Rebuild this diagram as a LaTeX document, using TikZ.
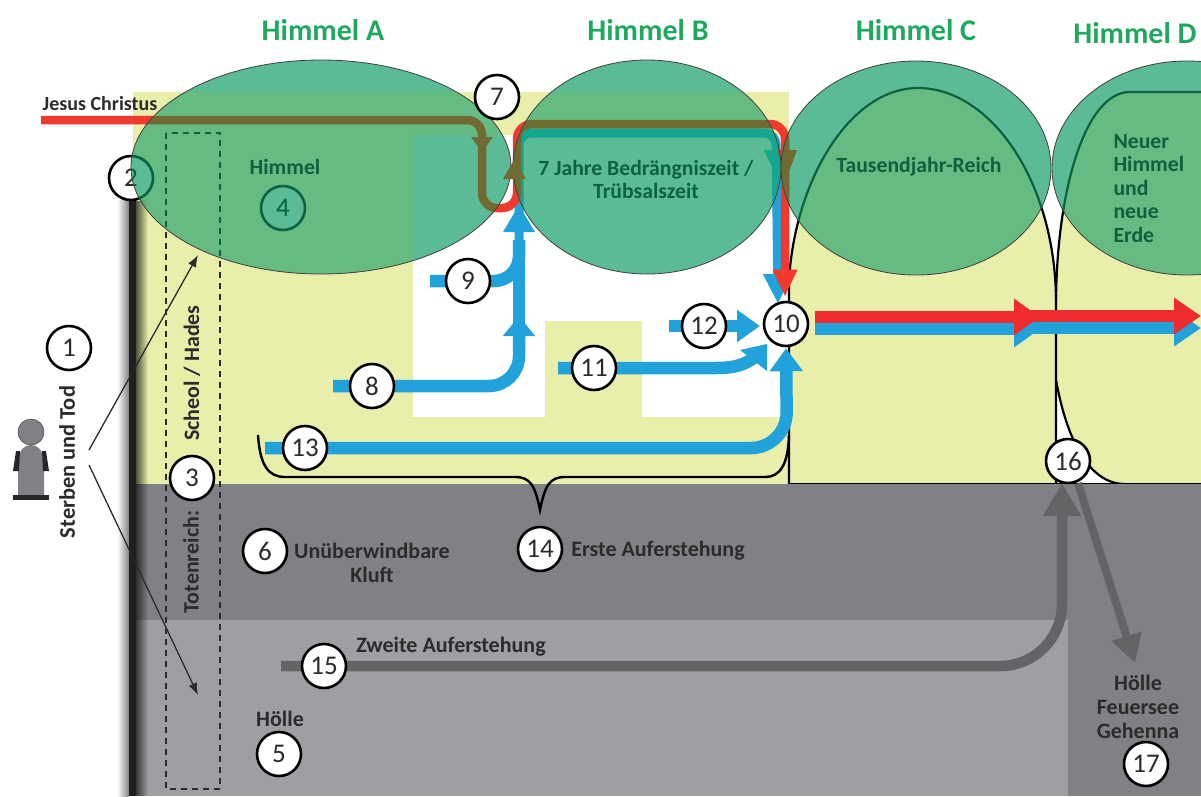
\documentclass[tikz,border=0pt]{standalone}
\usepackage{fontspec}
\setmainfont{Carlito}
\usetikzlibrary{arrows.meta,fadings}
\pgfdeclarelayer{base}
\pgfdeclarelayer{cover}
\pgfsetlayers{base,cover,main}
\definecolor{myyellow}{RGB}{233,238,170}
\definecolor{mydark}{RGB}{128,129,132}
\definecolor{mylight}{RGB}{157,159,162}
\definecolor{myarrow}{RGB}{99,100,102}
\definecolor{myblue}{RGB}{34,162,218}
\definecolor{myred}{RGB}{238,44,48}
\definecolor{myorange}{RGB}{240,58,46}
\definecolor{myolive}{RGB}{111,107,51}
\definecolor{myteal}{RGB}{20,166,143}
\definecolor{myleaf}{RGB}{102,187,131}
\definecolor{mydeep}{RGB}{12,98,62}
\definecolor{mytitle}{RGB}{31,169,95}
\definecolor{mytext}{RGB}{45,42,44}
\definecolor{mydisc}{RGB}{91,187,151}
\tikzset{
  num/.style={circle,draw=black,fill=white,line width=2.6pt,minimum size=44pt,inner sep=0pt,text=mytext,font=\fontsize{27}{27}\selectfont},
  title/.style={text=mytitle,font=\bfseries\fontsize{30}{30}\selectfont},
  lbl/.style={text=mytext,align=center,font=\bfseries\fontsize{22}{24}\selectfont},
  heaven/.style={text=mydeep,align=center,font=\bfseries\fontsize{21.7}{23.5}\selectfont},
  thinarrow/.style={line width=1.3pt,draw=mytext,-{Latex[length=12pt,width=9pt]}},
  blueline/.style={line width=12.5pt,draw=myblue},
  grayline/.style={line width=10.5pt,draw=myarrow},
  archline/.style={line width=2.2pt},
  dashbox/.style={dash pattern=on 6pt off 5pt,line width=1.4pt},
}
% red and blue passage, coloured by the two arguments
\newcommand{\passage}[2]{
  \draw[line width=9pt,draw=#1,rounded corners=12pt,-{Triangle[length=30pt,width=27pt]}] (519,240) -- (519,133) -- (776,133) -- (blueend);
  \fill[#1] (503,232) -- (535,232) -- (519,205) -- cycle;
  \fill[#1] (764,150) -- (786,150) -- (777,177) -- cycle;
  \draw[line width=8.5pt,draw=#2,rounded corners=15pt,-{Triangle[length=27pt,width=23pt]},shorten >=4pt] (t0) -- (482,120) -- (482,208) -- (517,208) -- (517,124) -- (785,124) -- ([xshift=-1pt]n10.north);
  \fill[#2] (471,137) -- (493,137) -- (482,152) -- cycle;
  \fill[#2] (777,150) -- (797,150) -- (787,177) -- cycle;
}
\newcommand{\archC}{(789,484) -- (789,280) .. controls (795,180) and (850,88) .. (918,88) .. controls (990,88) and (1055,180) .. (1056,300) -- (1056,484)}
\newcommand{\archD}{(1056,300) .. controls (1057,190) and (1085,92) .. (1130,92) -- (1201,92)}
% the yellow ground, also used again inside the discs
\newcommand{\yellowground}[1]{
  \fill[#1] (133,92) rectangle (789,135);
  \fill[#1] (133,135) rectangle (413,484);
  \fill[#1] (413,417) rectangle (789,484);
  \fill[#1] (545,321) rectangle (642,417);
  \fill[#1] \archC -- cycle;
  \fill[#1] \archD -- (1201,484) -- (1125,484) .. controls (1085,484) and (1065,430) .. (1056,380) -- cycle;
}
\begin{document}
\begin{tikzpicture}[x=1pt,y=-1pt]
  \useasboundingbox (0,0) rectangle (1201,796);
  \begin{pgfonlayer}{base}
    \fill[white] (0,0) rectangle (1201,796);
    \yellowground{myyellow}
    \draw[archline] \archC;
    \draw[archline] \archD;
    \draw[archline] (1125,484) .. controls (1085,484) and (1065,430) .. (1056,380);
    \draw[archline] (789,484) -- (1201,484);
    \fill[mydark] (133,484) rectangle (1201,796);
    \fill[mylight] (133,620) rectangle (1068,796);
    % wall
    \shade[left color=white,right color=mydark] (117,200) rectangle (129,796);
    \fill[black,path fading=east,opacity=.65] (136,200) rectangle (148,796);
    \fill[black!88] (129,200) rectangle (136,796);
    \draw[dashbox,draw=mytext] (166,133) rectangle (220,789);
  \end{pgfonlayer}

  \node[num] (n1) at (69,348) {1};
  \node[num] (n3) at (192,478) {3};
  \node[num,fill=mydisc,draw=mydeep,text=mydeep] (n4) at (283,208) {4};
  \node[num] (n5) at (279,754) {5};
  \node[num] (n6) at (265,551) {6};
  \node[num] (n7) at (497,97) {7};
  \node[num] (n8) at (372,386) {8};
  \node[num] (n9) at (468,281) {9};
  \node[num] (n10) at (786,324) {10};
  \node[num] (n11) at (594,368) {11};
  \node[num] (n12) at (704,326) {12};
  \node[num] (n13) at (305,448) {13};
  \node[num] (n14) at (540,549) {14};
  \node[num] (n15) at (324,666) {15};
  \node[num] (n16) at (1068,461) {16};
  \node[num] (n17) at (1146,764) {17};

  \coordinate (t0) at (41,120);
  \coordinate (t8) at (333,386);
  \coordinate (t9) at (430,281);
  \coordinate (t11) at (558,368);
  \coordinate (t12) at (669,326);
  \coordinate (t13) at (265,448);
  \coordinate (t15) at (281,666);
  \coordinate (blueend) at (778,304);
  \coordinate (death) at (89,457);

  \begin{pgfonlayer}{base}
    \node[num] (n2) at (131,178) {2};
    \draw[blueline,-{Triangle[length=20pt,width=31pt]}] (t8) -- (n8.center) [rounded corners=30pt] -- (519,386) -- (519,316);
    \draw[blueline] (t9) -- (n9.center) [rounded corners=25pt] -- (519,281) -- (519,240);
    \draw[blueline] (519,336) -- (519,240);
    \draw[blueline] (t11) -- (n11.center) -- (715,368) .. controls (735,368) and (745,365) .. (756,356);
    \fill[myblue] (767,344) -- (740,350) -- (767,371) -- cycle;
    \draw[blueline,-{Triangle[length=23pt,width=31pt]}] (t12) -- (n12.center) -- (760,326);
    \draw[blueline,-{Triangle[length=23pt,width=32pt]},shorten >=1pt] (t13) -- (n13.center) [rounded corners=36pt] -- (787,448) -- (n10.south);
    \draw[line width=2.4pt] (258,435) .. controls (260,465) and (268,477) .. (285,477) -- (515,477) .. controls (530,477) and (535,485) .. (540,510) .. controls (545,485) and (550,477) .. (565,477) -- (765,477) .. controls (780,477) and (788,465) .. (789,435);
    \passage{myblue}{myorange}
    % big way out of 10
    \draw[line width=12pt,draw=myblue,-{Triangle[length=26pt,width=35pt]}] ([shift={(6pt,-5pt)}]n10.east) -- (1040,329);
    \draw[line width=12pt,draw=myblue,-{Triangle[length=27pt,width=35pt]}] (1030,328) -- (1201,328);
    \draw[line width=12pt,draw=myred,-{Triangle[length=26pt,width=35pt]}] ([shift={(6pt,7pt)}]n10.east) -- (1040,317);
    \draw[line width=12pt,draw=myred,-{Triangle[length=27pt,width=35pt]}] (1030,316) -- (1201,316);
    \draw[grayline,-{Triangle[length=33pt,width=36pt]}] (t15) -- (n15.center) [rounded corners=62pt] -- (1062,666) -- (1062,483);
    \draw[line width=8pt,draw=myarrow,-{Triangle[length=28pt,width=30pt]}] (1078,483) -- (1135,663);
    \draw[thinarrow] (death) ++(0,-7) -- (198,255);
    \draw[thinarrow] (death) ++(0,8) -- (198,695);
  \end{pgfonlayer}

  \begin{pgfonlayer}{cover}
    \foreach \ex/\erx/\ey in {321/190/167,647/134/167,916/135/168,1187/135/168}{
      \begin{scope}
        \clip (\ex,\ey) ellipse [x radius=\erx,y radius=107];
        \fill[mydisc] (\ex,\ey) ellipse [x radius=\erx,y radius=107];
        \yellowground{myleaf}
        \fill[mydeep,path fading=east,opacity=.8] (129,200) rectangle (148,240);
        \passage{myteal}{myolive}
        \draw[archline,draw=mydeep] \archC;
        \draw[archline,draw=mydeep] \archD;
        \draw[dashbox,draw=mydeep] (166,133) rectangle (220,789);
        \node[num,fill=mydisc,draw=mydeep,text=mydeep] (n2top\ex) at (n2) {2};
      \end{scope}
      \draw[line width=.8pt,draw=black!75] (\ex,\ey) ellipse [x radius=\erx,y radius=107];
    }
    \fill[myolive] (503,179) -- (526,179) -- (514,160) -- cycle;
  \end{pgfonlayer}

  % person
  \fill[mydark] (18,497) -- (18,462) .. controls (19,450) and (24,445) .. (31,445) .. controls (38,445) and (43,450) .. (44,462) -- (44,497) -- cycle;
  \fill[black!85] (16,451) -- (20,451) -- (19,471) -- (13,471) -- cycle;
  \fill[black!85] (42,451) -- (46,451) -- (49,471) -- (43,471) -- cycle;
  \draw[fill=mydark,draw=black!70,line width=.6pt] (31,432) circle [radius=13];
  \fill[black!85] (13,495) rectangle (49,500);

  \node[title] (titleA) at (323,30) {Himmel A};
  \node[title] (titleB) at (648,30) {Himmel B};
  \node[title] (titleC) at (916,30) {Himmel C};
  \node[title] (titleD) at (1135,33) {Himmel D};
  \node[lbl,font=\bfseries\fontsize{20}{20}\selectfont] (jesus) at (100,104) {Jesus Christus};
  \node[heaven] (himmel) at (285,167) {Himmel};
  \node[heaven] (trib) at (646,179.5) {7 Jahre Bedrängniszeit /\\Trübsalszeit};
  \node[heaven] (reich) at (919,167) {Tausendjahr-Reich};
  \node[heaven,align=left,anchor=west] (neuer) at (1110,188.5) {Neuer\\Himmel\\und\\neue\\Erde};
  \node[lbl,rotate=90] (scheol) at (192,373) {Scheol / Hades};
  \node[lbl,rotate=90] (toten) at (191,562) {Totenreich:};
  \node[lbl,rotate=90,font=\bfseries\fontsize{22.4}{24}\selectfont] (sterben) at (67,462) {Sterben und Tod};
  \node[lbl] (kluft) at (372,563) {Unüberwindbare\\Kluft};
  \node[lbl] (erste) at (658,551) {Erste Auferstehung};
  \node[lbl] (zweite) at (451,647) {Zweite Auferstehung};
  \node[lbl] (hoelle) at (280,719) {Hölle};
  \node[lbl] (feuersee) at (1138,707) {Hölle\\Feuersee\\Gehenna};
\end{tikzpicture}
\end{document}
